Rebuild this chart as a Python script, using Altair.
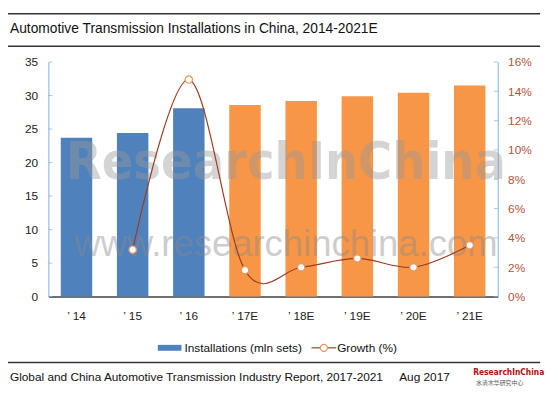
import altair as alt
import pandas as pd

years = ["’ 14", "’ 15", "’ 16", "’ 17E", "’ 18E", "’ 19E", "’ 20E", "’ 21E"]
installations = [23.7, 24.4, 28.1, 28.6, 29.2, 29.9, 30.4, 31.5]
growth = [None, 3.2, 14.8, 1.8, 2.0, 2.6, 2.0, 3.5]
left_ticks = [0, 5, 10, 15, 20, 25, 30, 35]
right_ticks = [0, 2, 4, 6, 8, 10, 12, 14, 16]

title_text = "Automotive Transmission Installations in China, 2014-2021E"
legend_bar = "Installations (mln sets)"
legend_line = "Growth (%)"
footer_text = "Global and China Automotive Transmission Industry Report, 2017-2021"
footer_date = "Aug 2017"
logo_text = "ResearchInChina"
logo_sub = "水清木华研究中心"
watermark = "ResearchInChina"
watermark_url = "www.researchinchina.com"

BLUE = "#4F81BD"
ORANGE = "#F79646"
AXIS_BLUE = "#7EB0E0"
LINE_RED = "#9C3B1E"
PT_ORANGE = "#E8965F"
FONT = "Liberation Sans"

df = pd.DataFrame({"year": years, "installations": installations, "growth": growth})
one = pd.DataFrame({"a": [0]})

x_enc = alt.X(
    "year:N", sort=years,
    scale=alt.Scale(paddingInner=0.44, paddingOuter=0.22),
    axis=alt.Axis(title=None, labelAngle=0, ticks=False, domainColor="#404040",
                  domainWidth=1.5, labelPadding=14, labelFontSize=12,
                  labelColor="#222", labelFont=FONT),
)

left_scale = alt.Scale(domain=[0, 35], nice=False)
left_axis = alt.Axis(title=None, values=left_ticks, ticks=False, domainColor=AXIS_BLUE,
                     labelPadding=11, labelFontSize=12, labelColor="#222",
                     labelFont=FONT, grid=False, orient="left")
right_scale = alt.Scale(domain=[0, 16], nice=False)
right_axis = alt.Axis(title=None, values=right_ticks, ticks=False, domainColor=AXIS_BLUE,
                      labelPadding=10, labelFontSize=12, labelColor="#B4533A",
                      labelFont=FONT, grid=False, orient="right",
                      labelExpr="datum.value + '%'")

bars = alt.Chart(df).transform_calculate(
    kind="indexof(datum.year, 'E') >= 0 ? 'forecast' : 'actual'"
).mark_bar().encode(
    x=x_enc,
    y=alt.Y("installations:Q", scale=left_scale, axis=left_axis),
    color=alt.Color("kind:N", scale=alt.Scale(domain=["actual", "forecast"], range=[BLUE, ORANGE]), legend=None),
)

lticks = alt.Chart(pd.DataFrame({"installations": left_ticks})).mark_tick(
    color=AXIS_BLUE, size=4, thickness=1
).encode(x=alt.value(2), y=alt.Y("installations:Q", scale=left_scale, axis=left_axis))

wm = alt.Chart(one).mark_text(
    font="DejaVu Sans Condensed", fontWeight="bold", fontSize=52.5, color="#9a9a9a",
    opacity=0.42, align="center", baseline="middle"
).encode(x=alt.value(241), y=alt.value(103), text=alt.value(watermark))

wm_url = alt.Chart(one).mark_text(
    font=FONT, fontSize=37, color="#8a8a8a", opacity=0.42, align="center", baseline="middle"
).encode(x=alt.value(241), y=alt.value(186), text=alt.value(watermark_url))

def rule(x1, x2, y, color="#333", w=1.5):
    return alt.Chart(one).mark_rule(color=color, strokeWidth=w).encode(
        x=alt.value(x1), x2=alt.value(x2), y=alt.value(y))

def text(t, x, y, size=12, color="#111", font=FONT, weight="normal", align="left"):
    return alt.Chart(one).mark_text(
        font=font, fontSize=size, color=color, fontWeight=weight, align=align, baseline="middle"
    ).encode(x=alt.value(x), y=alt.value(y), text=alt.value(t))

deco = [
    rule(-41, 499, -49),
    rule(-41, 499, -16),
    rule(-41, 499, 305),
    text(title_text, -39, -33, size=14),
    text(footer_text, -39, 320, size=12),
    text(footer_date, 356, 320, size=12),
    text(logo_text, 431, 315, size=8.5, color="#B01010", font="DejaVu Sans Condensed", weight="bold"),
    text(logo_sub, 434, 326, size=6, color="#555", font="Noto Sans CJK SC"),
    alt.Chart(one).mark_rect(color=BLUE).encode(
        x=alt.value(111), x2=alt.value(135), y=alt.value(287), y2=alt.value(293)),
    text(legend_bar, 138, 290, size=12),
    rule(267, 292, 290, color=LINE_RED, w=1.2),
    alt.Chart(one).mark_point(shape="circle", filled=True, fill="white", stroke=PT_ORANGE,
                              strokeWidth=1.2, size=50, opacity=1).encode(
        x=alt.value(279.5), y=alt.value(290)),
    text(legend_line, 293, 290, size=12),
]

layer_a = alt.layer(bars, lticks, wm, wm_url, *deco)

line = alt.Chart(df).transform_filter("isValid(datum.growth)").mark_line(
    interpolate="cardinal", color=LINE_RED, strokeWidth=1.2
).encode(x=x_enc, y=alt.Y("growth:Q", scale=right_scale, axis=right_axis))

pts = alt.Chart(df).transform_filter("isValid(datum.growth)").mark_point(
    shape="circle", filled=True, fill="white", stroke=PT_ORANGE, strokeWidth=1.2,
    size=55, opacity=1
).encode(x=x_enc, y=alt.Y("growth:Q", scale=right_scale, axis=right_axis))

rticks = alt.Chart(pd.DataFrame({"growth": right_ticks})).mark_tick(
    color=AXIS_BLUE, size=4, thickness=1
).encode(x=alt.value(454), y=alt.Y("growth:Q", scale=right_scale, axis=right_axis))

layer_b = alt.layer(line, pts, rticks)

chart = alt.layer(layer_a, layer_b).resolve_scale(y="independent").properties(
    width=456, height=238,
    autosize=alt.AutoSizeParams(type="none"),
    padding={"left": 41, "top": 52, "right": 53, "bottom": 93},
).configure_view(stroke=None)

chart.save("out.html", embed_options={"renderer": "svg", "actions": False})
